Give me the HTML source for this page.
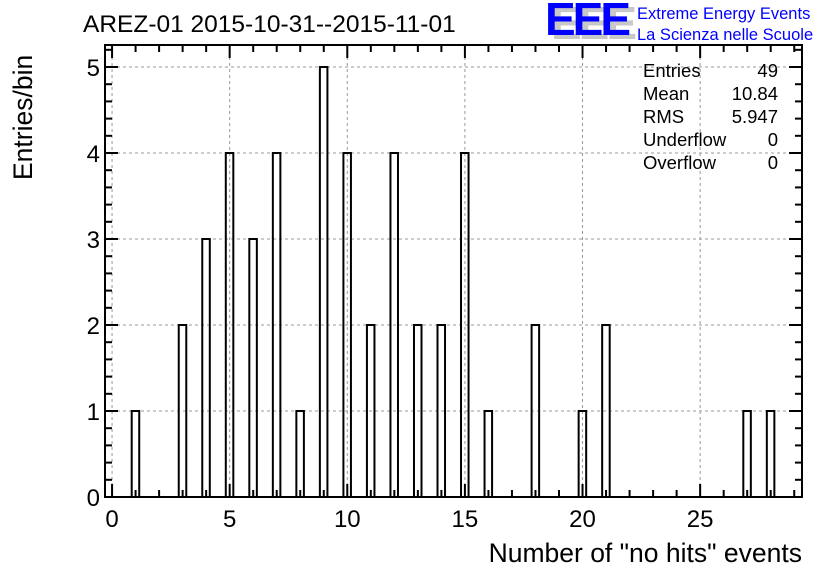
<!DOCTYPE html>
<html><head><meta charset="utf-8"><style>
body{margin:0;background:#fff;}
svg{display:block;font-family:"Liberation Sans",Arial,sans-serif;}
</style></head><body>
<svg id="c" width="836" height="572" viewBox="0 0 836 572">
<text x="83" y="32" font-size="24.5" fill="#000">AREZ-01 2015-10-31--2015-11-01</text>
<g>
<text x="551" y="39" font-size="46" font-weight="bold" fill="#c8c8c8" letter-spacing="-3">EEE</text>
<text x="545" y="35" font-size="46" font-weight="bold" fill="#0000ff" letter-spacing="-3">EEE</text>
<text x="637" y="19" font-size="16.5" fill="#0000ff">Extreme Energy Events</text>
<text x="637" y="40" font-size="16.5" fill="#0000ff">La Scienza nelle Scuole</text>
</g>
<g id="grid"></g><g id="bars"></g><g id="axes"></g>
<g font-size="18.5" fill="#000">
<text x="643" y="77">Entries</text><text x="778" y="77" text-anchor="end">49</text>
<text x="643" y="100">Mean</text><text x="778" y="100" text-anchor="end">10.84</text>
<text x="643" y="123">RMS</text><text x="778" y="123" text-anchor="end">5.947</text>
<text x="643" y="146">Underflow</text><text x="778" y="146" text-anchor="end">0</text>
<text x="643" y="169">Overflow</text><text x="778" y="169" text-anchor="end">0</text>
</g>
<text x="802" y="562" font-size="26.5" text-anchor="end">Number of "no hits" events</text>
<text transform="translate(32,180) rotate(-90)" font-size="26.5">Entries/bin</text>
</svg>
<script>
const binCenters=[1,3,4,5,6,7,8,9,10,11,12,13,14,15,16,18,20,21,27,28];
const binCounts=[1,2,3,4,3,4,1,5,4,2,4,2,2,4,1,2,1,2,1,1];
const xTickLabels=[0,5,10,15,20,25];
const yTickLabels=[0,1,2,3,4,5];
const NS="http://www.w3.org/2000/svg";
const L=105,R=802,T=45,B=497;
const xMin=-0.3,xMax=29.33,yMin=0,yMax=5.256;
const X=v=>L+(v-xMin)/(xMax-xMin)*(R-L);
const Y=v=>B-(v-yMin)/(yMax-yMin)*(B-T);
function mk(tag,attrs,parent){const e=document.createElementNS(NS,tag);for(const k in attrs)e.setAttribute(k,attrs[k]);parent.appendChild(e);return e;}
const grid=document.getElementById('grid'),bars=document.getElementById('bars'),axes=document.getElementById('axes');
xTickLabels.forEach(v=>{const l=mk('line',{x1:X(v),x2:X(v),y1:T,y2:B,stroke:'#999','stroke-dasharray':'3,3'},grid);

});
yTickLabels.forEach(v=>{const l=mk('line',{x1:L,x2:R,y1:Y(v),y2:Y(v),stroke:'#999','stroke-dasharray':'3,3'},grid);

});
binCenters.forEach((c,i)=>{const x0=X(c-0.165),x1=X(c+0.155);
const r=mk('rect',{x:x0,y:Y(binCounts[i]),width:x1-x0,height:B-Y(binCounts[i]),fill:'none',stroke:'#000','stroke-width':2},bars);

});
const fr=mk('rect',{x:L,y:T,width:R-L,height:B-T,fill:'none',stroke:'#000','stroke-width':2},axes);


for(let v=0;v<=29;v++){const len=v%5===0?13:7;
mk('line',{x1:X(v),x2:X(v),y1:B,y2:B-len,stroke:'#000','stroke-width':2},axes);
mk('line',{x1:X(v),x2:X(v),y1:T,y2:T+len,stroke:'#000','stroke-width':2},axes);}
for(let k=0;k<=26;k++){const v=k*0.2;const len=k%5===0?13:7;
mk('line',{x1:L,x2:L+len,y1:Y(v),y2:Y(v),stroke:'#000','stroke-width':2},axes);
mk('line',{x1:R,x2:R-len,y1:Y(v),y2:Y(v),stroke:'#000','stroke-width':2},axes);}
xTickLabels.forEach(v=>{const t=mk('text',{x:X(v),y:527,'font-size':24,'text-anchor':'middle'},axes);t.textContent=v;

});
yTickLabels.forEach(v=>{const t=mk('text',{x:100,y:Y(v)+9,'font-size':24,'text-anchor':'end'},axes);t.textContent=v;

});
</script>
</body></html>
